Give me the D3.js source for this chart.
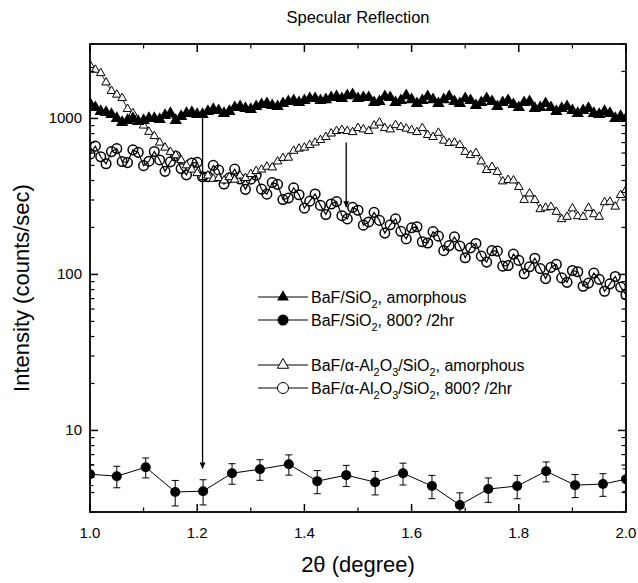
<!DOCTYPE html>
<html><head><meta charset="utf-8">
<script src="https://cdn.jsdelivr.net/npm/d3@7"></script>
<style>body{margin:0;background:#fff}svg{display:block}</style>
</head><body><svg id="c" width="638" height="583"></svg>
<script>
// ---------- data ----------
const xTicks = [1.0, 1.2, 1.4, 1.6, 1.8, 2.0];
const yTicks = [10, 100, 1000];
const scanStart = 1.0, scanStep = 0.01; // measurement grid 1.00 ... 2.00
const filledTri = [1246,1175,1108,1092,1060,1000,943,970,1000,957,970,1000,1000,985,1045,1076,970,1030,1076,1092,
 1060,1060,1108,1141,1124,1076,1108,1175,1192,1158,1141,1192,1228,1246,1210,1192,1246,1283,1302,1264,
 1302,1341,1341,1302,1321,1361,1381,1341,1401,1422,1341,1361,1361,1264,1283,1381,1361,1264,1302,1401,
 1321,1246,1302,1381,1321,1246,1321,1381,1283,1246,1341,1302,1210,1264,1341,1283,1192,1264,1302,1228,
 1175,1264,1283,1158,1175,1246,1175,1108,1158,1192,1124,1076,1124,1158,1076,1060,1108,1076,1000,1030,1000];
const openTri = [2200,2050,1950,1700,1500,1420,1350,1150,1080,950,900,820,770,700,650,610,580,540,500,470,
 446,421,430,410,415,400,420,405,430,415,440,460,470,490,485,530,557,560,620,640,
 650,675,700,727,760,800,830,843,830,817,868,850,830,900,940,867,850,905,880,860,
 840,817,867,783,760,809,720,695,700,675,610,582,600,530,467,488,454,395,403,400,
 364,300,330,300,262,268,271,252,226,234,265,236,234,267,243,234,290,292,272,323,347];
const openCirc = [590,664,568,512,613,641,529,521,629,606,498,532,614,542,458,527,573,477,435,518,
 523,423,423,500,466,380,416,473,409,351,408,432,352,327,388,378,302,309,359,324,
 266,295,328,277,242,283,293,238,227,269,258,207,217,250,222,184,208,227,189,169,
 199,202,162,159,188,176,142,153,174,152,128,148,158,131,120,142,141,113,114,135,
 123,101,112,127,109,94,111,116,95,89,106,104,84,88,102,93,78,87,97,83,74];
const errX = [1.0,1.05,1.104,1.159,1.211,1.265,1.317,1.371,1.424,1.478,1.532,1.584,1.638,1.690,1.743,1.797,1.851,1.905,1.957,2.0];
const errY = [5.24,5.09,5.81,4.03,4.08,5.32,5.64,6.07,4.73,5.17,4.66,5.32,4.40,3.33,4.21,4.40,5.48,4.46,4.53,4.87];
const errE = [0.8,0.8,0.85,0.75,0.75,0.8,0.85,0.9,0.8,0.8,0.8,0.85,0.75,0.65,0.75,0.75,0.8,0.75,0.75,0.8];
const arrowX = [1.21, 1.478];
const arrowFrom = [1060, 700];
const arrowTo = [5.7, 270];
const legendNames = [
  [["BaF/SiO",0],["2",1],[", amorphous",0]],
  [["BaF/SiO",0],["2",1],[", 800?  /2hr",0]],
  [["BaF/\u03b1-Al",0],["2",1],["O",0],["3",1],["/SiO",0],["2",1],[", amorphous",0]],
  [["BaF/\u03b1-Al",0],["2",1],["O",0],["3",1],["/SiO",0],["2",1],[", 800?  /2hr",0]]
];

// ---------- layout ----------
const L = 90, R = 626, T = 44, B = 512;
const font = "'Liberation Sans', Arial, Helvetica, sans-serif";
const svg = d3.select("#c").style("font-family", font);

const x = d3.scaleLinear().domain([1.0, 2.0]).range([L, R]);
const y = d3.scaleLog().domain([3, 3000]).range([B, T]);
const grid = openTri.map((_, i) => scanStart + i * scanStep);

const defs = svg.append("defs");
defs.append("clipPath").attr("id", "clip")
  .append("rect").attr("x", L).attr("y", T).attr("width", R - L).attr("height", B - T);
defs.append("marker").attr("id", "ah").attr("viewBox", "0 0 10 10").attr("refX", 10).attr("refY", 5)
  .attr("markerWidth", 11).attr("markerHeight", 6).attr("markerUnits", "userSpaceOnUse").attr("orient", "auto")
  .append("path").attr("d", "M0,0 L10,5 L0,10 Z").attr("fill", "#000");

const plot = svg.append("g").attr("clip-path", "url(#clip)");
const line = d3.line().x(d => x(d[0])).y(d => y(d[1]));

// open circles series
const circData = grid.map((g, i) => [g, openCirc[i]]);
plot.append("path").attr("d", line(circData)).attr("fill", "none").attr("stroke", "#000").attr("stroke-width", 1.2);
plot.selectAll(".oc").data(circData).join("circle").attr("cx", d => x(d[0])).attr("cy", d => y(d[1]))
  .attr("r", 4.8).attr("fill", "none").attr("stroke", "#000").attr("stroke-width", 1.5);

// open triangle series
const otData = grid.map((g, i) => [g, openTri[i]]);
plot.append("path").attr("d", line(otData)).attr("fill", "none").attr("stroke", "#000").attr("stroke-width", 0.8);
plot.selectAll(".ot").data(otData).join("path")
  .attr("transform", d => `translate(${x(d[0])},${y(d[1])})`)
  .attr("d", d3.symbol().type(d3.symbolTriangle).size(32)).attr("fill", "#fff").attr("stroke", "#000").attr("stroke-width", 1);

// filled triangle series
const ftData = grid.map((g, i) => [g, filledTri[i]]);
plot.append("path").attr("d", line(ftData)).attr("fill", "none").attr("stroke", "#000").attr("stroke-width", 3);
plot.selectAll(".ft").data(ftData).join("path")
  .attr("transform", d => `translate(${x(d[0])},${y(d[1])})`)
  .attr("d", d3.symbol().type(d3.symbolTriangle).size(66)).attr("fill", "#000");

// error bar series
const eData = errX.map((v, i) => [v, errY[i], errE[i]]);
plot.append("path").attr("d", line(eData)).attr("fill", "none").attr("stroke", "#000").attr("stroke-width", 1);
const eg = plot.selectAll(".eb").data(eData).join("g");
eg.append("line").attr("x1", d => x(d[0])).attr("x2", d => x(d[0]))
  .attr("y1", d => y(d[1] + d[2])).attr("y2", d => y(d[1] - d[2])).attr("stroke", "#000").attr("stroke-width", 1);
[1, -1].forEach(sg => {
  eg.append("line").attr("x1", d => x(d[0]) - 3.5).attr("x2", d => x(d[0]) + 3.5)
    .attr("y1", d => y(d[1] + sg * d[2])).attr("y2", d => y(d[1] + sg * d[2])).attr("stroke", "#000").attr("stroke-width", 1);
});
eg.append("circle").attr("cx", d => x(d[0])).attr("cy", d => y(d[1])).attr("r", 5).attr("fill", "#000");

// arrows
arrowX.forEach((ax, i) => {
  svg.append("line").attr("x1", x(ax)).attr("x2", x(ax)).attr("y1", y(arrowFrom[i])).attr("y2", y(arrowTo[i]))
    .attr("stroke", "#000").attr("stroke-width", 1.3).attr("marker-end", "url(#ah)");
});

// ---------- axes (ticks inward on all sides) ----------
const minorX = [1.1, 1.3, 1.5, 1.7, 1.9];
const minorY = [];
[1, 10, 100, 1000].forEach(dec => { for (let k = 2; k <= 9; k++) { const v = k * dec; if (v >= 3 && v <= 3000 && v !== 10 && v !== 100 && v !== 1000) minorY.push(v); } });
const axes = svg.append("g").attr("stroke", "#000");
function tick(x1, y1, x2, y2, w) { axes.append("line").attr("x1", x1).attr("y1", y1).attr("x2", x2).attr("y2", y2).attr("stroke-width", w); }
xTicks.forEach(v => { tick(x(v), B, x(v), B - 8, 1.5); tick(x(v), T, x(v), T + 8, 1.5); });
minorX.forEach(v => { tick(x(v), B, x(v), B - 4.5, 1.2); tick(x(v), T, x(v), T + 4.5, 1.2); });
yTicks.forEach(v => { tick(L, y(v), L + 8, y(v), 1.5); tick(R, y(v), R - 8, y(v), 1.5); });
minorY.forEach(v => { tick(L, y(v), L + 4.5, y(v), 1.2); tick(R, y(v), R - 4.5, y(v), 1.2); });
svg.append("rect").attr("x", L).attr("y", T).attr("width", R - L).attr("height", B - T)
  .attr("fill", "none").attr("stroke", "#000").attr("stroke-width", 1.8);

svg.append("g").selectAll("text").data(xTicks).join("text")
  .attr("x", d => x(d)).attr("y", 538).attr("text-anchor", "middle").attr("font-size", 15).text(d => d.toFixed(1));
svg.append("g").selectAll("text").data(yTicks).join("text")
  .attr("x", L - 8).attr("y", d => y(d) + 5).attr("text-anchor", "end").attr("font-size", 15).text(d => d);

svg.append("text").attr("x", 358).attr("y", 572).attr("text-anchor", "middle").attr("font-size", 22).text("2\u03b8 (degree)");
svg.append("text").attr("transform", "translate(29,288) rotate(-90)").attr("text-anchor", "middle").attr("font-size", 22).text("Intensity (counts/sec)");
svg.append("text").attr("x", 358).attr("y", 23).attr("text-anchor", "middle").attr("font-size", 16.5).text("Specular Reflection");

// ---------- legend ----------
const legY = [297, 320, 365, 388];
const lg = svg.append("g");
legendNames.forEach((parts, i) => {
  const yy = legY[i];
  lg.append("line").attr("x1", 258).attr("x2", 308).attr("y1", yy).attr("y2", yy).attr("stroke", "#000").attr("stroke-width", 1);
  const mx = 283;
  if (i === 0) lg.append("path").attr("transform", `translate(${mx},${yy})`).attr("d", d3.symbol().type(d3.symbolTriangle).size(60)).attr("fill", "#000");
  if (i === 1) lg.append("circle").attr("cx", mx).attr("cy", yy).attr("r", 5.5).attr("fill", "#000");
  if (i === 2) lg.append("path").attr("transform", `translate(${mx},${yy})`).attr("d", d3.symbol().type(d3.symbolTriangle).size(55)).attr("fill", "#fff").attr("stroke", "#000");
  if (i === 3) lg.append("circle").attr("cx", mx).attr("cy", yy).attr("r", 5.5).attr("fill", "#fff").attr("stroke", "#000");
  const t = lg.append("text").attr("x", 311).attr("y", yy + 5.5).attr("font-size", 16);
  let sub = 0;
  parts.forEach(([s, isSub]) => {
    const ts = t.append("tspan").text(s);
    if (isSub && !sub) { ts.attr("dy", 5).attr("font-size", 11); sub = 1; }
    else if (!isSub && sub) { ts.attr("dy", -5); sub = 0; }
    else if (isSub) ts.attr("font-size", 11);
  });
});
</script></body></html>
